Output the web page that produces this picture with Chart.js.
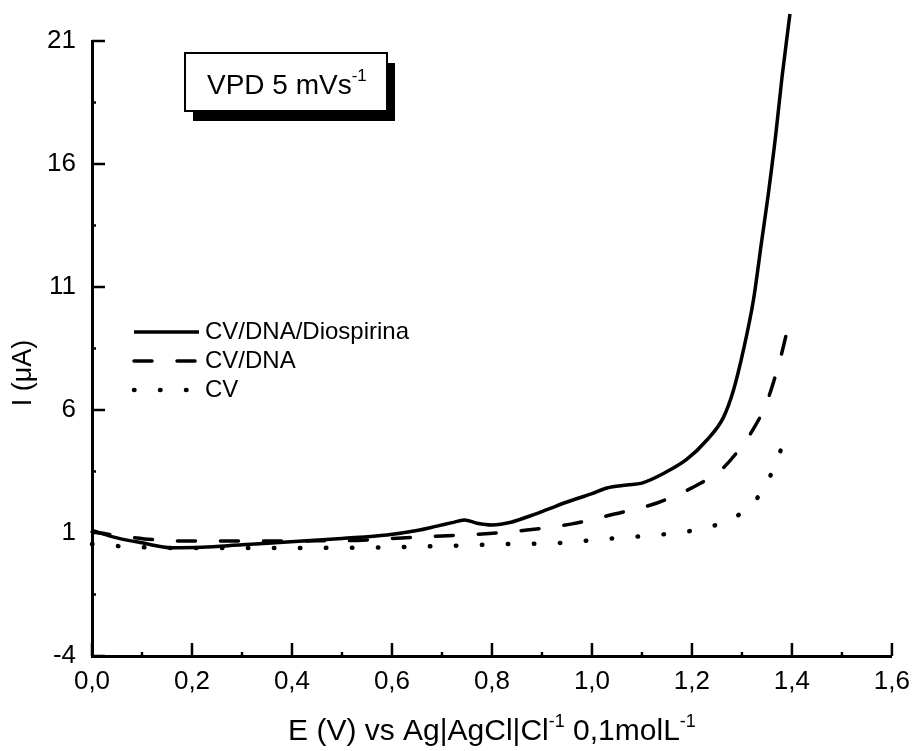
<!DOCTYPE html>
<html>
<head>
<meta charset="utf-8">
<script src="https://cdn.jsdelivr.net/npm/chart.js@4/dist/chart.umd.min.js"></script>
<style>
  body { margin: 0; background: #fff; }
  #wrap { width: 920px; height: 751px; position: relative; }
</style>
</head>
<body>
<div id="wrap"><canvas id="graph"></canvas></div>
<script>
// potential (V) and current (uA)
const eDiosp = [0, 0.05, 0.10, 0.16, 0.22, 0.30, 0.39, 0.50, 0.59, 0.65, 0.69, 0.72, 0.745, 0.77, 0.80, 0.84, 0.87, 0.91, 0.95, 1.00, 1.03, 1.07, 1.10, 1.145, 1.19, 1.23, 1.263, 1.283, 1.303, 1.323, 1.339, 1.352, 1.368, 1.38, 1.396];
const iDiosp = [1.1, 0.8, 0.6, 0.4, 0.42, 0.52, 0.63, 0.78, 0.92, 1.1, 1.28, 1.42, 1.53, 1.4, 1.33, 1.45, 1.65, 1.95, 2.26, 2.6, 2.83, 2.95, 3.03, 3.44, 4.0, 4.78, 5.7, 6.8, 8.44, 10.47, 12.8, 14.67, 17.26, 19.5, 22.1];

const eDNA = [0, 0.05, 0.105, 0.19, 0.28, 0.36, 0.45, 0.53, 0.62, 0.70, 0.78, 0.87, 0.96, 1.045, 1.13, 1.218, 1.26, 1.297, 1.325, 1.349, 1.376, 1.396];
const iDNA = [1.05, 0.9, 0.76, 0.67, 0.67, 0.67, 0.68, 0.7, 0.8, 0.88, 0.96, 1.12, 1.37, 1.77, 2.22, 3.03, 3.6, 4.46, 5.3, 6.28, 8.03, 9.7];

const eCV = [0, 0.05, 0.10, 0.2, 0.3, 0.4, 0.5, 0.6, 0.7, 0.77, 0.82, 0.93, 1.03, 1.13, 1.184, 1.234, 1.287, 1.335, 1.364, 1.384, 1.396];
const iCV = [0.55, 0.47, 0.42, 0.39, 0.39, 0.39, 0.4, 0.42, 0.47, 0.51, 0.55, 0.59, 0.76, 0.92, 1.04, 1.24, 1.65, 2.54, 3.64, 4.66, 4.9];

const seriesNames = ["CV/DNA/Diospirina", "CV/DNA", "CV"];
const xTicks = [0, 0.2, 0.4, 0.6, 0.8, 1.0, 1.2, 1.4, 1.6];
const xMinor = [0.1, 0.3, 0.5, 0.7, 0.9, 1.1, 1.3, 1.5];
const yTicks = [-4, 1, 6, 11, 16, 21];
const yMinor = [-1.5, 3.5, 8.5, 13.5, 18.5];

const FONT = "'Liberation Sans', Arial, sans-serif";
Chart.defaults.font.family = FONT;
Chart.defaults.color = '#000';

function pts(xs, ys) { return xs.map((v, i) => ({x: v, y: ys[i]})); }

// draw text with "-1" superscripts
function supText(ctx, parts, x, y, size, supSize, align) {
    let total = 0;
    parts.forEach(p => { ctx.font = (p[1] ? supSize : size) + 'px ' + FONT; total += ctx.measureText(p[0]).width; });
    let cx = align === 'center' ? x - total / 2 : x;
    ctx.textAlign = 'left';
    ctx.textBaseline = 'alphabetic';
    parts.forEach(p => {
        ctx.font = (p[1] ? supSize : size) + 'px ' + FONT;
        ctx.fillText(p[0], cx, p[1] ? y - size * 0.45 : y);
        cx += ctx.measureText(p[0]).width;
    });
}

const decor = {
    id: 'decor',
    afterDraw(chart) {
        const {ctx, scales: {x, y}} = chart;
        ctx.save();
        ctx.strokeStyle = '#000';
        ctx.fillStyle = '#000';
        ctx.lineWidth = 2.5;
        ctx.lineCap = 'butt';
        const seg = (a, b, c, d) => { ctx.beginPath(); ctx.moveTo(a, b); ctx.lineTo(c, d); ctx.stroke(); };
        // inward ticks
        xTicks.forEach(v => { const p = x.getPixelForValue(v); seg(p, y.bottom, p, y.bottom - 13); });
        xMinor.forEach(v => { const p = x.getPixelForValue(v); seg(p, y.bottom, p, y.bottom - 4); });
        yTicks.forEach(v => { const p = y.getPixelForValue(v); seg(x.left, p, x.left + 13, p); });
        yMinor.forEach(v => { const p = y.getPixelForValue(v); seg(x.left, p, x.left + 4, p); });

        // legend
        chart.data.datasets.forEach((ds, i) => {
            const ly = 332 + i * 29;
            ctx.save();
            ctx.lineWidth = ds.borderWidth;
            ctx.lineCap = ds.borderCapStyle || 'butt';
            ctx.setLineDash(ds.borderDash || []);
            seg(134, ly, 199, ly);
            ctx.restore();
            ctx.font = '24px ' + FONT;
            ctx.textAlign = 'left';
            ctx.textBaseline = 'middle';
            ctx.fillText(ds.label, 205, ly);
        });

        // label box with shadow
        ctx.fillRect(193, 63, 202, 58);
        ctx.fillStyle = '#fff';
        ctx.fillRect(185, 53, 202, 58);
        ctx.lineWidth = 2;
        ctx.strokeRect(185, 53, 202, 58);
        ctx.fillStyle = '#000';
        supText(ctx, [['VPD 5 mVs', false], ['-1', true]], 207, 94, 28, 17, 'left');

        // x axis title
        supText(ctx, [['E (V) vs Ag|AgCl|Cl', false], ['-1', true], [' 0,1molL', false], ['-1', true]],
            (x.left + x.right) / 2, 740, 30, 18, 'center');

        // y axis title
        ctx.translate(24, 373);
        ctx.rotate(-Math.PI / 2);
        ctx.font = '27px ' + FONT;
        ctx.textAlign = 'center';
        ctx.textBaseline = 'middle';
        ctx.fillText('I (\u03bcA)', 0, 0);
        ctx.restore();
    }
};

var ctx = document.getElementById("graph");
var graph = new Chart(ctx, {
    type: 'line',
    data: {
        datasets: [{
            label: seriesNames[0],
            data: pts(eDiosp, iDiosp),
            borderColor: '#000',
            borderWidth: 3.5,
            clip: false
        }, {
            label: seriesNames[1],
            data: pts(eDNA, iDNA),
            borderColor: '#000',
            borderWidth: 3.5,
            borderDash: [18, 25],
            borderCapStyle: 'round',
            clip: false
        }, {
            label: seriesNames[2],
            data: pts(eCV, iCV),
            borderColor: '#000',
            borderWidth: 4.5,
            borderDash: [0.5, 25.5],
            borderCapStyle: 'round',
            clip: false
        }]
    },
    options: {
        responsive: true,
        maintainAspectRatio: false,
        animation: false,
        elements: { point: { radius: 0 }, line: { cubicInterpolationMode: 'monotone' } },
        layout: { padding: { top: 41, right: 20, left: 0, bottom: 0 } },
        plugins: { legend: { display: false }, tooltip: { enabled: false } },
        scales: {
            x: {
                type: 'linear',
                min: 0,
                max: 1.6,
                afterBuildTicks: s => { s.ticks = xTicks.map(v => ({value: v})); },
                afterFit: s => { s.height = 95; },
                ticks: {
                    font: { size: 26 },
                    color: '#000',
                    padding: 10,
                    maxRotation: 0,
                    callback: v => v.toFixed(1).replace('.', ',')
                },
                grid: { display: false, drawTicks: false },
                border: { color: '#000', width: 3 }
            },
            y: {
                min: -4,
                max: 21,
                afterBuildTicks: s => { s.ticks = yTicks.map(v => ({value: v})); },
                afterFit: s => { s.width = 92; },
                ticks: { font: { size: 26 }, color: '#000', padding: 16 },
                grid: { display: false, drawTicks: false },
                border: { color: '#000', width: 3 }
            }
        }
    },
    plugins: [decor]
});
</script>
</body>
</html>
